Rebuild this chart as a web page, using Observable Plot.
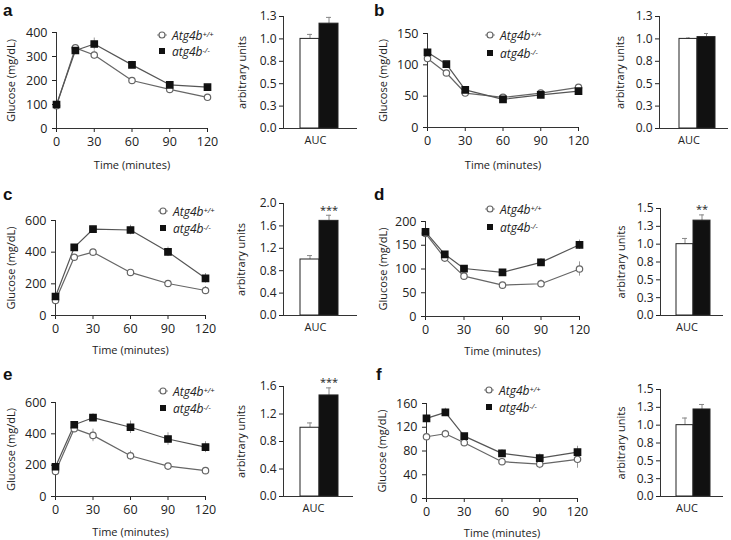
<!DOCTYPE html>
<html><head><meta charset="utf-8">
<script src="https://cdn.jsdelivr.net/npm/d3@7"></script>
<script src="https://cdn.jsdelivr.net/npm/@observablehq/plot@0.6"></script>
<style>
body{margin:0;background:#fff;}
#fig{position:relative;width:731px;height:540px;overflow:hidden;background:#fff;}
#fig svg{position:absolute;}
#fig svg [aria-label="x-axis label"] text,#fig svg [aria-label="y-axis label"] text{font-size:11px;}
.plbl{position:absolute;font:bold 17px "Liberation Sans",Arial,sans-serif;color:#111;line-height:1;}
</style></head><body><div id="fig"></div>
<script>
// ---------- data ----------
const times = [0, 15, 30, 60, 90, 120];
const timeTicks = [0, 30, 60, 90, 120];
const legendLabels = ["Atg4b", "+/+", "atg4b", "-/-"];

// panel a
const gluA_WT = [95, 336, 306, 200, 163, 130];
const gluA_WT_err = [4, 8, 18, 8, 5, 5];
const gluA_KO = [100, 325, 352, 265, 182, 172];
const gluA_KO_err = [6, 10, 25, 15, 8, 6];
const yTicksA = [0, 100, 200, 300, 400];
const aucA = [1.0, 1.17];
const aucA_err = [0.05, 0.07];
const aucTicksA = [0, 0.25, 0.5, 0.75, 1.0, 1.25];

// panel b
const gluB_WT = [110, 87, 55, 48, 55, 64];
const gluB_WT_err = [4, 3, 3, 2, 3, 3];
const gluB_KO = [120, 101, 60, 45, 52, 58];
const gluB_KO_err = [5, 3, 3, 2, 3, 3];
const yTicksB = [0, 50, 100, 150];
const aucB = [1.0, 1.02];
const aucB_err = [0.01, 0.04];
const aucTicksB = [0, 0.25, 0.5, 0.75, 1.0, 1.25];

// panel c
const gluC_WT = [95, 368, 400, 272, 202, 158];
const gluC_WT_err = [6, 10, 10, 10, 15, 25];
const gluC_KO = [120, 430, 545, 540, 402, 235];
const gluC_KO_err = [8, 12, 18, 30, 30, 30];
const yTicksC = [0, 200, 400, 600];
const aucC = [1.0, 1.69];
const aucC_err = [0.07, 0.10];
const aucTicksC = [0, 0.4, 0.8, 1.2, 1.6, 2.0];

// panel d
const gluD_WT = [175, 123, 85, 66, 69, 100];
const gluD_WT_err = [5, 4, 4, 4, 8, 15];
const gluD_KO = [178, 131, 101, 93, 114, 151];
const gluD_KO_err = [6, 5, 4, 5, 8, 10];
const yTicksD = [0, 50, 100, 150, 200];
const aucD = [1.0, 1.33];
const aucD_err = [0.08, 0.08];
const aucTicksD = [0, 0.25, 0.5, 0.75, 1.0, 1.25, 1.5];

// panel e
const gluE_WT = [160, 433, 390, 260, 194, 165];
const gluE_WT_err = [10, 15, 40, 30, 12, 10];
const gluE_KO = [190, 458, 503, 442, 367, 315];
const gluE_KO_err = [12, 15, 25, 40, 40, 35];
const yTicksE = [0, 200, 400, 600];
const aucE = [1.0, 1.47];
const aucE_err = [0.07, 0.11];
const aucTicksE = [0, 0.4, 0.8, 1.2, 1.6];

// panel f
const gluF_WT = [104, 109, 94, 62, 58, 66];
const gluF_WT_err = [5, 6, 3, 4, 8, 15];
const gluF_KO = [135, 145, 105, 76, 68, 78];
const gluF_KO_err = [5, 7, 4, 6, 7, 10];
const yTicksF = [0, 40, 80, 120, 160];
const aucF = [1.0, 1.22];
const aucF_err = [0.10, 0.07];
const aucTicksF = [0, 0.25, 0.5, 0.75, 1.0, 1.25, 1.5];

// significance marks
const starsA = "", starsB = "", starsC = "***", starsD = "**", starsE = "***", starsF = "";

// ---------- drawing ----------
const FONT = '"Open Sans", sans-serif';
const fig = document.getElementById("fig");

function place(svg, left, top) {
  svg.style.position = "absolute";
  svg.style.left = left + "px";
  svg.style.top = top + "px";
  fig.appendChild(svg);
}

function legend(svg, x, y1, y2) {
  const g = d3.select(svg).append("g")
    .attr("font-family", FONT).attr("font-size", 12).attr("font-style", "italic")
    .attr("fill", "#222").attr("text-anchor", "start");
  g.append("line").attr("x1", x - 5).attr("x2", x + 5).attr("y1", y1).attr("y2", y1).attr("stroke", "#888");
  g.append("circle").attr("cx", x).attr("cy", y1).attr("r", 3)
    .attr("fill", "white").attr("stroke", "#666").attr("stroke-width", 1.2);
  g.append("rect").attr("x", x - 3).attr("y", y2 - 3).attr("width", 6).attr("height", 6).attr("fill", "#111");
  [[y1, 0], [y2, 2]].forEach(([y, k]) => {
    const t = g.append("text").attr("x", x + 10).attr("y", y).attr("dy", "0.38em");
    t.append("tspan").text(legendLabels[k]);
    t.append("tspan").attr("dy", "-0.4em").attr("font-size", 7.5).text(legendLabels[k + 1]);
  });
}

function linePanel(p) {
  const rows = times.flatMap((t, i) => [
    {t, g: "WT", v: p.wt[i], e: p.wtErr[i]},
    {t, g: "KO", v: p.ko[i], e: p.koErr[i]}
  ]);
  const wt = rows.filter(d => d.g === "WT");
  const ko = rows.filter(d => d.g === "KO");
  const svg = Plot.plot({
    width: p.w, height: p.h,
    marginLeft: p.mL, marginRight: p.mR, marginTop: p.mT, marginBottom: p.mB,
    style: {background: "transparent", fontFamily: FONT, fontSize: "12.5px", color: "#222", overflow: "visible"},
    x: {domain: [0, 120], ticks: timeTicks, tickSize: 4, tickPadding: 5, label: "Time (minutes)",
        labelAnchor: "center", labelOffset: p.xLO, labelArrow: "none"},
    y: {domain: [0, p.ymax], ticks: p.yTicks, tickSize: 4, tickPadding: 5, label: "Glucose (mg/dL)",
        labelAnchor: "center", labelOffset: p.yLO, labelArrow: "none"},
    marks: [
      Plot.ruleX(rows, {x: "t", y1: d => d.v - d.e, y2: d => d.v + d.e, stroke: "#999", strokeWidth: 1}),
      Plot.ruleY([0], {stroke: "#333"}),
      Plot.ruleX([0], {stroke: "#333"}),
      Plot.line(wt, {x: "t", y: "v", stroke: "#666", strokeWidth: 1.2}),
      Plot.line(ko, {x: "t", y: "v", stroke: "#555", strokeWidth: 1.2}),
      Plot.dot(wt, {x: "t", y: "v", r: 3.2, fill: "white", stroke: "#666", strokeWidth: 1.2}),
      Plot.dot(ko, {x: "t", y: "v", symbol: "square", r: 3.5, fill: "#111", stroke: "#111"})
    ]
  });
  legend(svg, p.lx, p.ly1, p.ly2);
  place(svg, p.left, p.top);
}

function barPanel(p) {
  const rows = [{g: "WT", v: p.auc[0], e: p.err[0]}, {g: "KO", v: p.auc[1], e: p.err[1]}];
  const marks = [
    Plot.ruleX(rows, {x: "g", y1: "v", y2: d => d.v + d.e, stroke: "#888"}),
    Plot.tickY(rows, {x: "g", y: d => d.v + d.e, stroke: "#888", insetLeft: p.cap, insetRight: p.cap}),
    Plot.barY(rows.filter(d => d.g === "WT"), {x: "g", y: "v", fill: "white", stroke: "#222", strokeWidth: 1}),
    Plot.barY(rows.filter(d => d.g === "KO"), {x: "g", y: "v", fill: "#111", stroke: "#222", strokeWidth: 1}),
    Plot.ruleY([0], {stroke: "#333"}),
    Plot.frame({anchor: "left", stroke: "#333"}),
    Plot.text(["AUC"], {frameAnchor: "bottom", text: d => d, dy: 15, dx: -5, fontSize: 11})
  ];
  if (p.star) marks.push(Plot.text(rows.filter(d => d.g === "KO"),
    {x: "g", y: d => d.v + d.e, text: () => p.star, dy: -5, fontSize: 11}));
  const svg = Plot.plot({
    width: p.w, height: p.h,
    marginLeft: p.mL, marginRight: p.mR, marginTop: p.mT, marginBottom: p.mB,
    style: {background: "transparent", fontFamily: FONT, fontSize: "12px", color: "#222", overflow: "visible"},
    x: {type: "band", domain: ["WT", "KO"], paddingInner: 0, paddingOuter: p.po, align: p.align, axis: null},
    y: {domain: [0, p.ymax], ticks: p.ticks, tickFormat: d => d.toFixed(1), tickSize: 4, tickPadding: 3,
        label: "arbitrary units", labelAnchor: "center", labelOffset: p.yLO, labelArrow: "none"},
    marks
  });
  place(svg, p.left, p.top);
}

// line panels
linePanel({wt: gluA_WT, wtErr: gluA_WT_err, ko: gluA_KO, koErr: gluA_KO_err, ymax: 400, yTicks: yTicksA,
  left: 0, top: 0, w: 240, h: 170, mL: 56, mR: 33, mT: 32, mB: 42, yLO: 49, xLO: 40, lx: 162, ly1: 35, ly2: 51});
linePanel({wt: gluB_WT, wtErr: gluB_WT_err, ko: gluB_KO, koErr: gluB_KO_err, ymax: 150, yTicks: yTicksB,
  left: 365, top: 0, w: 240, h: 170, mL: 62, mR: 27, mT: 33, mB: 43, yLO: 48, xLO: 41, lx: 125, ly1: 35, ly2: 53});
linePanel({wt: gluC_WT, wtErr: gluC_WT_err, ko: gluC_KO, koErr: gluC_KO_err, ymax: 600, yTicks: yTicksC,
  left: 0, top: 175, w: 240, h: 180, mL: 55, mR: 35, mT: 45, mB: 40, yLO: 48, xLO: 38, lx: 163, ly1: 36, ly2: 53});
linePanel({wt: gluD_WT, wtErr: gluD_WT_err, ko: gluD_KO, koErr: gluD_KO_err, ymax: 200, yTicks: yTicksD,
  left: 365, top: 175, w: 240, h: 180, mL: 60, mR: 26, mT: 46, mB: 39, yLO: 46, xLO: 38, lx: 125, ly1: 34, ly2: 52});
linePanel({wt: gluE_WT, wtErr: gluE_WT_err, ko: gluE_KO, koErr: gluE_KO_err, ymax: 600, yTicks: yTicksE,
  left: 0, top: 360, w: 240, h: 180, mL: 55, mR: 35, mT: 42, mB: 44, yLO: 48, xLO: 39, lx: 163, ly1: 31, ly2: 48});
linePanel({wt: gluF_WT, wtErr: gluF_WT_err, ko: gluF_KO, koErr: gluF_KO_err, ymax: 160, yTicks: yTicksF,
  left: 365, top: 360, w: 240, h: 180, mL: 61, mR: 28, mT: 43, mB: 42, yLO: 48, xLO: 38, lx: 124, ly1: 30, ly2: 47});

// bar panels
barPanel({auc: aucA, err: aucA_err, ymax: 1.25, ticks: aucTicksA, star: starsA,
  left: 230, top: 0, w: 130, h: 170, mL: 53, mR: 3, mT: 16, mB: 42, yLO: 45, po: 0.9, align: 0.46, cap: 7});
barPanel({auc: aucB, err: aucB_err, ymax: 1.25, ticks: aucTicksB, star: starsB,
  left: 600, top: 0, w: 131, h: 170, mL: 59, mR: 3, mT: 16, mB: 42, yLO: 43, po: 0.82, align: 0.61, cap: 7});
barPanel({auc: aucC, err: aucC_err, ymax: 2.0, ticks: aucTicksC, star: starsC,
  left: 230, top: 175, w: 130, h: 180, mL: 53, mR: 3, mT: 28, mB: 40, yLO: 46, po: 0.9, align: 0.46, cap: 7});
barPanel({auc: aucD, err: aucD_err, ymax: 1.5, ticks: aucTicksD, star: starsD,
  left: 600, top: 175, w: 131, h: 180, mL: 60, mR: 8, mT: 33, mB: 40, yLO: 43, po: 0.85, align: 0.55, cap: 6});
barPanel({auc: aucE, err: aucE_err, ymax: 1.6, ticks: aucTicksE, star: starsE,
  left: 230, top: 360, w: 130, h: 180, mL: 53, mR: 7, mT: 26, mB: 44, yLO: 46, po: 0.8, align: 0.52, cap: 7});
barPanel({auc: aucF, err: aucF_err, ymax: 1.5, ticks: aucTicksF, star: starsF,
  left: 600, top: 360, w: 131, h: 180, mL: 60, mR: 8, mT: 29, mB: 44, yLO: 43, po: 0.85, align: 0.55, cap: 6});

// panel letters
[["a", 3, 2], ["b", 374, 2], ["c", 3, 186], ["d", 374, 186], ["e", 3, 366], ["f", 376, 366]].forEach(([t, x, y]) => {
  const d = document.createElement("div");
  d.className = "plbl"; d.textContent = t; d.style.left = x + "px"; d.style.top = y + "px";
  fig.appendChild(d);
});
</script></body></html>
